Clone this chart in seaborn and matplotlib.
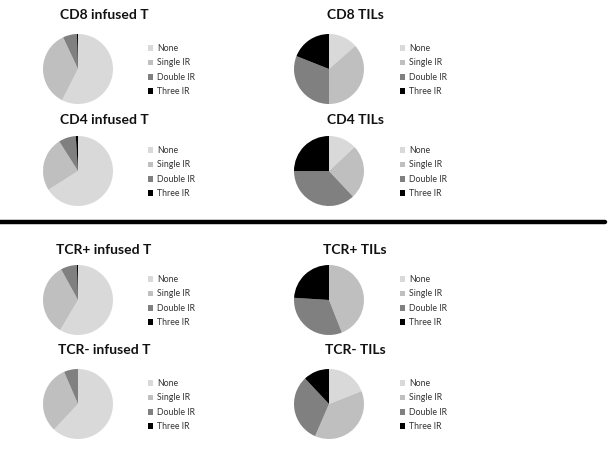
import numpy as np
import seaborn as sns
import matplotlib.pyplot as plt
from matplotlib.patches import Patch

sns.set_style("white")
plt.rcParams['font.family'] = ['Lato', 'DejaVu Sans']

# data (percent of cells)
categories = ['None', 'Single IR', 'Double IR', 'Three IR']
titles = ['CD8 infused T', 'CD8 TILs', 'CD4 infused T', 'CD4 TILs',
          'TCR+ infused T', 'TCR+ TILs', 'TCR- infused T', 'TCR- TILs']
cd8_inf = [57.5, 35.5, 6.5, 0.5]
cd8_til = [13.5, 36.5, 31.0, 19.0]
cd4_inf = [66.0, 25.0, 8.0, 1.0]
cd4_til = [13.0, 25.0, 37.0, 25.0]
tcrp_inf = [58.5, 33.5, 7.5, 0.5]
tcrp_til = [0.0, 44.0, 32.0, 24.0]
tcrn_inf = [62.0, 31.5, 6.5, 0.0]
tcrn_til = [19.0, 37.5, 31.5, 12.0]
values = [cd8_inf, cd8_til, cd4_inf, cd4_til, tcrp_inf, tcrp_til, tcrn_inf, tcrn_til]

colors = ['#d9d9d9', '#bfbfbf', '#808080', '#000000']

W, H = 612, 449
fig = plt.figure(figsize=(W / 100, H / 100), dpi=100)

# pixel layout
pie_cx = [78, 329]
pie_cy = [69, 171, 300, 404]
title_cx = [104, 355]
title_cy = [15, 120, 250, 350]
leg_x = [148, 400]
R = 35

for i, (t, v) in enumerate(zip(titles, values)):
    row, col = divmod(i, 2)
    cx, cy = pie_cx[col], pie_cy[row]
    ax = fig.add_axes([(cx - R) / W, (H - cy - R) / H, 2 * R / W, 2 * R / H])
    ax.pie(v, colors=colors, startangle=90, counterclock=False,
           wedgeprops=dict(linewidth=0))
    ax.set_xlim(-1, 1)
    ax.set_ylim(-1, 1)
    ax.set_aspect('equal')
    fig.text(title_cx[col] / W, 1 - title_cy[row] / H, t, ha='center', va='center',
             fontsize=10, fontweight='bold', color='#111111')
    handles = [Patch(facecolor=c, edgecolor='none') for c in colors]
    ax.legend(handles, categories, loc='upper left',
              bbox_to_anchor=(leg_x[col] / W, 1 - (cy - 25) / H),
              bbox_transform=fig.transFigure, frameon=False, fontsize=6.3,
              handlelength=0.6, handleheight=0.6, handletextpad=0.4,
              labelspacing=0.62, borderaxespad=0, borderpad=0,
              labelcolor='#333333')

# separator between the two halves
fig.add_artist(plt.Line2D([0, 605 / W], [1 - 222 / H, 1 - 222 / H],
                          color='black', linewidth=3.2, transform=fig.transFigure))

fig.savefig('out.png', dpi=100)
